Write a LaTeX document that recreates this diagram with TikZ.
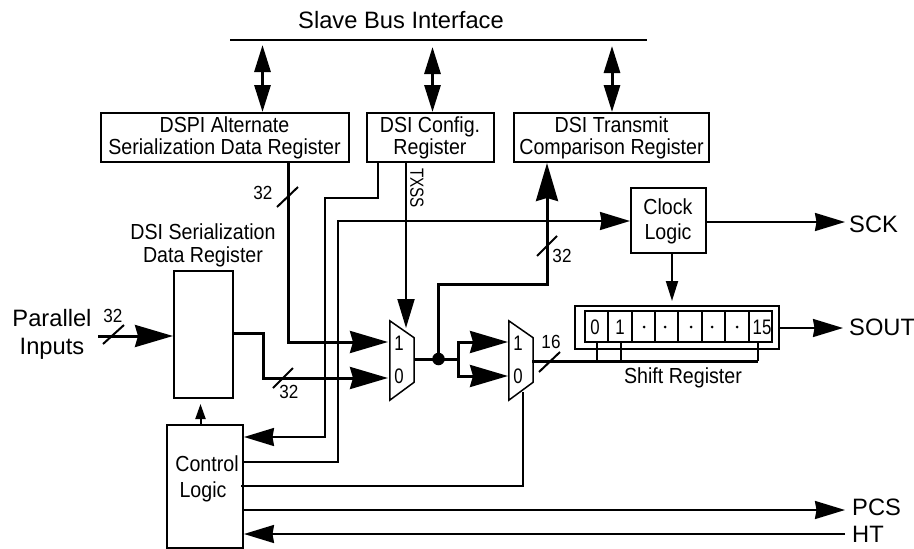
\documentclass[tikz,border=0pt]{standalone}
\usepackage{fontspec}
\setmainfont{Liberation Sans}
\newfontfamily\narrowfont[FakeStretch=0.9]{Liberation Sans}
\newfontfamily\slimfont[FakeStretch=0.8]{Liberation Sans}
\usetikzlibrary{arrows.meta,calc}
\tikzset{
  x=1pt,y=-1pt,
  big/.style={font=\fontsize{23.7}{28}\selectfont,inner sep=0pt,align=center},
  reg/.style={font=\narrowfont\fontsize{21.8}{22}\selectfont,inner sep=0pt,align=center},
  small/.style={font=\narrowfont\fontsize{19}{20}\selectfont,inner sep=0pt},
  digit/.style={font=\slimfont\fontsize{21}{22}\selectfont,inner sep=0pt},
  tiny/.style={font=\slimfont\fontsize{19}{20}\selectfont,inner sep=0pt},
  box/.style={draw,line width=2pt,inner sep=0pt},
  thin line/.style={line width=2pt},
  thick line/.style={line width=3pt},
  bigtip/.style={-{Stealth[length=38pt,width=22pt,inset=3pt]}},
  midtip/.style={-{Stealth[length=30pt,width=18pt,inset=1.5pt]}},
  downtip/.style={-{Triangle[length=20pt,width=12pt]}},
  smalltip/.style={-{Triangle[length=15pt,width=10pt]}},
  bitip/.style={{Triangle[length=27pt,width=16pt]}-{Triangle[length=27pt,width=16pt]}},
  muxshape/.style={draw,line width=1.5pt,line join=miter,fill=none},
  slash/.style={line width=2pt},
  pt/.style={inner sep=0pt,minimum size=0pt},
}
\begin{document}
\begin{tikzpicture}
\useasboundingbox (0,0) rectangle (914,549);
% Registers
\node[box,minimum width=248pt,minimum height=49pt,reg] (alt) at (224.5,137.5) {DSPI Alternate\\Serialization Data Register};
\node[box,minimum width=127pt,minimum height=49pt,reg] (cfg) at (430,137.5) {DSI Config.\\Register};
\node[box,minimum width=195pt,minimum height=49pt,reg] (cmp) at (611.5,137.5) {DSI Transmit\\Comparison Register};
\node[box,minimum width=59pt,minimum height=127pt] (ser) at (203.5,334.5) {};
\node[box,minimum width=76pt,minimum height=123pt] (ctl) at (205,486.5) {};
\node[box,minimum width=75pt,minimum height=65pt] (clk) at (668.5,220.5) {};
\node[box,minimum width=204pt,minimum height=43pt] (sro) at (677,327.5) {};
\node[box,minimum width=187pt,minimum height=31pt] (sri) at (678.5,326.5) {};
% Text
\node[big] (slave) at (401,20) {Slave Bus Interface};
\node[reg] (serl) at (203,245) {DSI Serialization\\[1pt]Data Register};
\node[big] (par) at (52,334.5) {Parallel\\Inputs};
\node[reg] (ctl1) at (207,464) {Control};
\node[reg] (ctl2) at (203,492) {Logic};
\node[reg] (clk1) at (668,207) {Clock};
\node[reg] (clk2) at (668,234) {Logic};
\node[reg] (srl) at (683,378) {Shift Register};
\node[big,anchor=west] (sck) at (849,224) {SCK};
\node[big,anchor=west] (sout) at (849,327) {SOUT};
\node[big,anchor=west] (pcs) at (852,507) {PCS};
\node[big,anchor=west] (ht) at (852,534) {HT};
\node[tiny,rotate=-90] (txss) at (417,188) {TXSS};
\node[small] (n1) at (263,193) {32};
\node[small] (n2) at (113,316) {32};
\node[small] (n3) at (289,392) {32};
\node[small] (n4) at (562,256) {32};
\node[small] (n5) at (551,342) {16};
% Shift cells
\foreach \x in {608,632,655,678,702,725,749} \draw[thin line] (\x,311) -- (\x,342);
\node[digit] (b0) at (595,327) {0};
\node[digit] (b1) at (620,327) {1};
\foreach \x/\n in {644/a,665/b,691/c,712/d,737/e} \node[circle,fill,inner sep=0pt,minimum size=3pt] (dot\n) at (\x,327) {};
\node[digit] (b15) at (762,327) {15};
% Muxes
\node[pt,minimum width=24pt,minimum height=79pt] (m1) at (402,360.5) {};
\node[pt,minimum width=24pt,minimum height=79pt] (m2) at (521,360.5) {};
\draw[muxshape] (m1.north west) -- ($(m1.north east)+(0,17)$) -- ($(m1.south east)+(0,-18)$) -- (m1.south west) -- cycle;
\draw[muxshape] (m2.north west) -- ($(m2.north east)+(0,17)$) -- ($(m2.south east)+(0,-18)$) -- (m2.south west) -- cycle;
\node[digit] (m1a) at (399,343.5) {1};
\node[digit] (m1b) at (399,376) {0};
\node[digit] (m2a) at (518,343.5) {1};
\node[digit] (m2b) at (518,376) {0};
% Named points
\coordinate (busL) at (230,40);
\coordinate (busR) at (647,40);
\coordinate (m1in1) at (388,342);
\coordinate (m1in0) at (388,378);
\coordinate (m2in1) at (508,342);
\coordinate (m2in0) at (508,376);
\coordinate (m1out) at (414,359);
\coordinate (m2out) at (532,361);
\coordinate (fork) at (458,359);
\node[circle,fill,inner sep=0pt,minimum size=12.5pt] (join) at (438.5,359) {};
% Bus
\draw[line width=2pt] (busL) -- (busR);
\coordinate (t1) at (262.5,45); \coordinate (t2) at (432.5,47); \coordinate (t3) at (612,46);
\draw[thick line,bitip] (t1) -- (262.5,112);
\draw[thick line,bitip] (t2) -- (432.5,112);
\draw[thick line,bitip] (t3) -- (612,112);
% Left data
\draw[thick line,bigtip] (288,162) -- (288,342) -- (m1in1);
\draw[slash] (277,207) -- (298,187);
\coordinate (pin) at (98,336);
\draw[thick line,bigtip] (pin) -- (ser.west |- pin);
\draw[slash] (103,344) -- (124,325);
\draw[thick line,bigtip] (ser.east |- 0,333) -- (263,333) -- (263,378) -- (m1in0);
\draw[slash] (273,388) -- (293,368);
% Config
\draw[thin line,midtip] (377.5,162) -- (377.5,197.5) -- (325,197.5) -- (325,437) -- (ctl.east |- 0,437);
\draw[thin line,-{Triangle[length=29pt,width=17pt]}] (406,162) -- (406,328);
% Clock feed
\draw[thin line,midtip] (ctl.east |- 0,462) -- (338,462) -- (338,221) -- (clk.west |- 0,221);
% Control
\draw[thin line,smalltip] (200.5,425) -- (200.5,404);
\draw[thin line] (241,486) -- (523,486) -- (523,392);
\draw[thin line,midtip] (ctl.east |- 0,510) -- (845,510);
\draw[thin line,midtip] (845,534) -- (ctl.east |- 0,534);
% Mux outputs
\draw[thick line] (m1out) -- (fork);
\draw[thick line,bigtip] (fork) -- (458,342) -- (m2in1);
\draw[thick line,bigtip] (fork) -- (458,376) -- (m2in0);
\draw[thick line,bigtip] (join) -- (438.5,284) -- (547,284) -- (cmp.south -| 547,0);
\draw[slash] (537,256) -- (557,236);
\draw[thick line] (m2out) -- (758,361);
\draw[slash] (539,372) -- (560,352);
\draw[thin line] (597,361) -- (597,342);
\draw[thin line] (621,361) -- (621,342);
\draw[thin line] (758,361) -- (758,342);
% Clock & outputs
\draw[thin line,midtip] (clk.east |- 0,222) -- (845,222);
\draw[thin line,downtip] (clk.south -| 672,0) -- (672,301);
\draw[thin line,midtip] (sro.east |- 0,328) -- (843,328);
\end{tikzpicture}
\end{document}
